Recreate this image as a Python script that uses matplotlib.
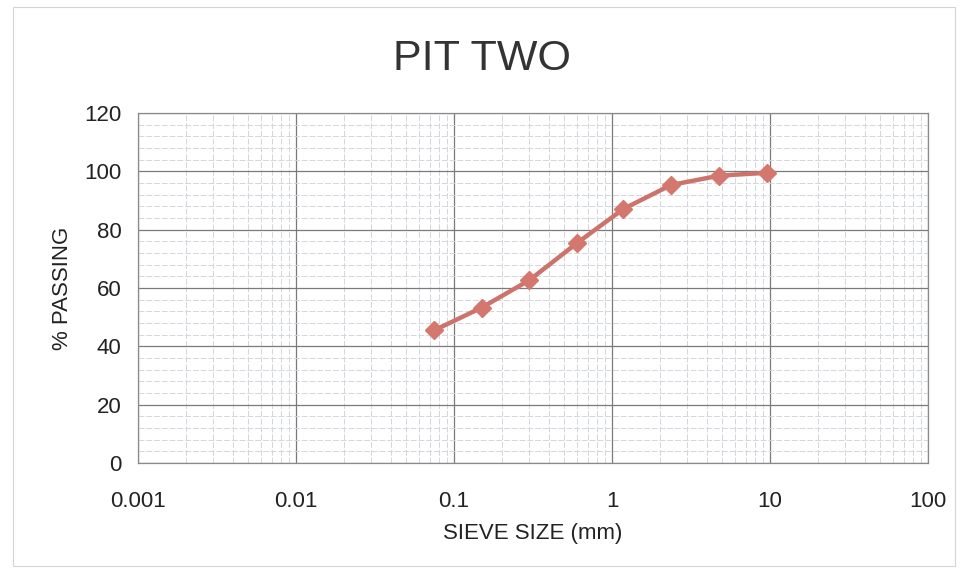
import numpy as np
import matplotlib.pyplot as plt
from matplotlib.ticker import FixedLocator, LogLocator, NullFormatter
from matplotlib.patches import Rectangle

# sieve sizes (mm) and percent passing
sieve_mm = [0.075, 0.15, 0.3, 0.6, 1.18, 2.36, 4.75, 9.5]
passing = [45.5, 53.3, 62.7, 75.4, 87.1, 95.3, 98.5, 99.5]

x_ticks = [0.001, 0.01, 0.1, 1, 10, 100]
x_labels = ["0.001", "0.01", "0.1", "1", "10", "100"]
y_ticks = [0, 20, 40, 60, 80, 100, 120]

plt.rcParams['font.family'] = ['Liberation Sans', 'DejaVu Sans']

fig = plt.figure(figsize=(9.64, 5.73), dpi=100)
ax = fig.add_axes([0.1432, 0.192, 0.8195, 0.6108])

# faint frame of the scanned page
fig.patches.append(Rectangle((0.013, 0.012), 0.978, 0.975, transform=fig.transFigure,
                             fill=False, edgecolor="#d4d4d4", linewidth=0.8))

ax.set_xscale("log")
ax.set_xlim(0.001, 100)
ax.set_ylim(0, 120)

ax.xaxis.set_major_locator(FixedLocator(x_ticks))
ax.set_xticklabels(x_labels)
ax.xaxis.set_minor_locator(LogLocator(base=10, subs=np.arange(2, 10)))
ax.xaxis.set_minor_formatter(NullFormatter())
ax.set_yticks(y_ticks)
ax.yaxis.set_minor_locator(FixedLocator(np.arange(0, 121, 4)))

ax.grid(which="major", color="#7a7a7a", linewidth=0.9)
ax.grid(which="minor", color="#d3d6db", linewidth=0.7, linestyle=(0, (6, 2)))
ax.set_axisbelow(True)
ax.tick_params(which="both", length=0, labelsize=16, colors="#222222")
ax.tick_params(axis="x", pad=20)
ax.tick_params(axis="y", pad=12)

for s in ax.spines.values():
    s.set_color("#8a8a8a")
    s.set_linewidth(0.9)

ax.plot(sieve_mm, passing, color="#cd736c", linewidth=3.2, marker="D",
        markersize=9.5, markerfacecolor="#d4776f", markeredgecolor="#d4776f")

fig.text(0.5, 0.897, "PIT TWO", ha="center", va="center", fontsize=31,
         color="#333333")
ax.set_xlabel("SIEVE SIZE (mm)", fontsize=16, color="#222222", labelpad=8)
ax.set_ylabel("% PASSING", fontsize=16, color="#222222", labelpad=8)

fig.savefig("out.png", dpi=100)
